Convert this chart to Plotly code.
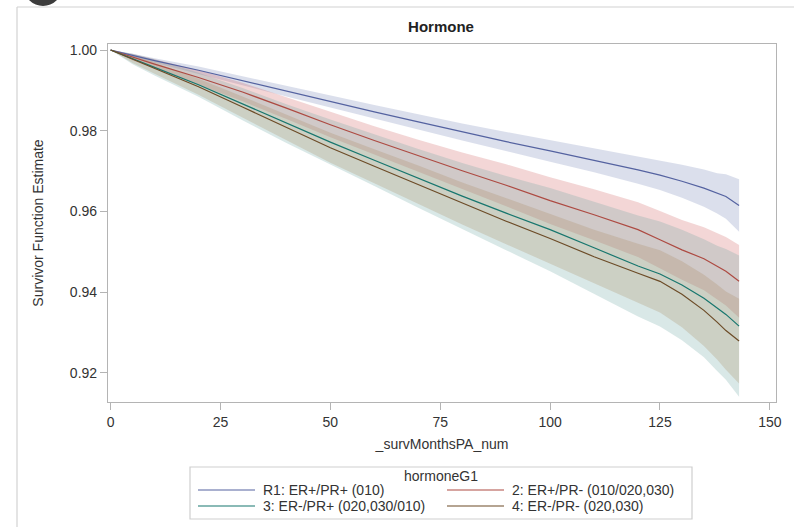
import plotly.graph_objects as go

# ---- data ----
months = [0, 5, 10, 20, 30, 40, 50, 60, 70, 80, 90, 100, 110, 120, 125, 130, 135, 138, 140, 143]

groups = ["R1: ER+/PR+ (010)", "2: ER+/PR- (010/020,030)",
          "3: ER-/PR+ (020,030/010)", "4: ER-/PR- (020,030)"]

est_1 = [1.0, 0.9987, 0.9974, 0.9950, 0.9924, 0.9898, 0.9872, 0.9847, 0.9822, 0.9797,
         0.9773, 0.9750, 0.9727, 0.9703, 0.9690, 0.9675, 0.9658, 0.9645, 0.9637, 0.9615]
lo_1 = [1.0, 0.9983, 0.9968, 0.9941, 0.9913, 0.9885, 0.9857, 0.9830, 0.9803, 0.9776,
        0.9749, 0.9723, 0.9697, 0.9669, 0.9653, 0.9634, 0.9612, 0.9595, 0.9582, 0.9550]
hi_1 = [1.0, 0.9991, 0.9980, 0.9959, 0.9935, 0.9911, 0.9887, 0.9864, 0.9841, 0.9818,
        0.9797, 0.9777, 0.9757, 0.9737, 0.9727, 0.9716, 0.9704, 0.9695, 0.9692, 0.9680]

est_2 = [1.0, 0.9982, 0.9965, 0.9932, 0.9896, 0.9856, 0.9815, 0.9776, 0.9738, 0.9701,
         0.9665, 0.9627, 0.9592, 0.9555, 0.9530, 0.9505, 0.9483, 0.9464, 0.9452, 0.9427]
lo_2 = [1.0, 0.9974, 0.9953, 0.9914, 0.9873, 0.9829, 0.9784, 0.9741, 0.9697, 0.9656,
        0.9613, 0.9569, 0.9529, 0.9487, 0.9459, 0.9431, 0.9405, 0.9382, 0.9367, 0.9337]
hi_2 = [1.0, 0.9990, 0.9977, 0.9950, 0.9919, 0.9883, 0.9846, 0.9811, 0.9778, 0.9746,
        0.9717, 0.9685, 0.9655, 0.9623, 0.9601, 0.9579, 0.9561, 0.9546, 0.9537, 0.9517]

est_3 = [1.0, 0.9978, 0.9957, 0.9914, 0.9866, 0.9818, 0.9772, 0.9727, 0.9682, 0.9638,
         0.9596, 0.9555, 0.9510, 0.9465, 0.9445, 0.9418, 0.9385, 0.9360, 0.9345, 0.9316]
lo_3 = [1.0, 0.9965, 0.9937, 0.9884, 0.9826, 0.9770, 0.9716, 0.9663, 0.9609, 0.9556,
        0.9504, 0.9452, 0.9396, 0.9340, 0.9315, 0.9281, 0.9239, 0.9205, 0.9183, 0.9141]
hi_3 = [1.0, 0.9991, 0.9977, 0.9944, 0.9906, 0.9866, 0.9828, 0.9791, 0.9755, 0.9720,
        0.9688, 0.9658, 0.9624, 0.9590, 0.9575, 0.9555, 0.9531, 0.9515, 0.9507, 0.9491]

est_4 = [1.0, 0.9977, 0.9955, 0.9909, 0.9859, 0.9809, 0.9758, 0.9712, 0.9667, 0.9620,
         0.9576, 0.9533, 0.9488, 0.9447, 0.9427, 0.9395, 0.9355, 0.9326, 0.9305, 0.9279]
lo_4 = [1.0, 0.9968, 0.9941, 0.9889, 0.9833, 0.9777, 0.9721, 0.9670, 0.9620, 0.9568,
        0.9519, 0.9471, 0.9421, 0.9374, 0.9350, 0.9313, 0.9267, 0.9233, 0.9208, 0.9174]
hi_4 = [1.0, 0.9986, 0.9969, 0.9929, 0.9885, 0.9841, 0.9795, 0.9754, 0.9714, 0.9672,
        0.9633, 0.9595, 0.9555, 0.9520, 0.9504, 0.9477, 0.9443, 0.9419, 0.9402, 0.9384]

x_ticks = [0, 25, 50, 75, 100, 125, 150]
y_ticks = [0.92, 0.94, 0.96, 0.98, 1.00]

# ---- styling ----
W, H = 794, 527
L, R, T, B = 108, 776, 44, 402          # plot-area pixel box
line_colors = ["#5462a0", "#ad4a42", "#17766e", "#6c4b27"]
band_colors = ["rgba(111,126,179,0.25)", "rgba(208,91,91,0.25)",
               "rgba(102,165,160,0.25)", "rgba(169,134,91,0.25)"]
FONT = "Liberation Sans, Arial, sans-serif"
GREY = "#b4b4b4"


def px(xp):
    return (xp - L) / (R - L)


def py(yp):
    return (B - yp) / (B - T)


ests = [est_1, est_2, est_3, est_4]
los = [lo_1, lo_2, lo_3, lo_4]
his = [hi_1, hi_2, hi_3, hi_4]

fig = go.Figure()
for i in range(4):
    fig.add_trace(go.Scatter(
        x=months + months[::-1], y=his[i] + los[i][::-1],
        fill="toself", fillcolor=band_colors[i], line=dict(width=0),
        mode="lines", hoverinfo="skip", showlegend=False))
for i in range(4):
    fig.add_trace(go.Scatter(
        x=months, y=ests[i], mode="lines", name=groups[i],
        line=dict(color=line_colors[i], width=1.2), showlegend=False))

shapes = [
    # outer frame (top and left edges)
    dict(type="line", xref="paper", yref="paper", x0=px(17), x1=px(800), y0=py(7), y1=py(7),
         line=dict(color="#d2d2d2", width=1.2)),
    dict(type="line", xref="paper", yref="paper", x0=px(17), x1=px(17), y0=py(7), y1=py(530),
         line=dict(color="#d2d2d2", width=1.2)),
    # dark badge at top-left
    dict(type="circle", xref="paper", yref="paper", x0=px(24), x1=px(62), y0=py(6), y1=py(-32),
         fillcolor="#3c3c3c", line=dict(width=0)),
    # legend box
    dict(type="rect", xref="paper", yref="paper", x0=px(190), x1=px(692), y0=py(467), y1=py(519),
         line=dict(color="#cfcfcf", width=1.2), fillcolor="rgba(0,0,0,0)"),
]
annotations = [
    dict(text="hormoneG1", xref="paper", yref="paper", x=px(441), y=py(476),
         showarrow=False, font=dict(family=FONT, size=14, color="#333333"),
         xanchor="center", yanchor="middle"),
]
leg_pos = [(198, 490), (447, 490), (198, 506), (447, 506)]
for i, (lx, ly) in enumerate(leg_pos):
    shapes.append(dict(type="line", xref="paper", yref="paper",
                       x0=px(lx), x1=px(lx + 57), y0=py(ly), y1=py(ly),
                       line=dict(color=line_colors[i], width=1.2)))
    annotations.append(dict(text=groups[i], xref="paper", yref="paper",
                            x=px(lx + 63), y=py(ly), showarrow=False,
                            xanchor="left", yanchor="middle",
                            font=dict(family=FONT, size=14, color="#333333")))

fig.update_layout(
    width=W, height=H,
    margin=dict(l=L, r=W - R, t=T, b=H - B, pad=0),
    paper_bgcolor="white", plot_bgcolor="white",
    font=dict(family=FONT, size=14, color="#333333"),
    title=dict(text="<b>Hormone</b>", x=px(441), xref="paper", xanchor="center",
               y=1 - 27 / H, yanchor="middle", font=dict(family=FONT, size=15, color="#222222")),
    shapes=shapes, annotations=annotations,
    showlegend=False,
)
fig.update_xaxes(
    range=[-0.6, 151.4], tickvals=x_ticks, ticktext=[str(v) for v in x_ticks],
    showgrid=False, zeroline=False, showline=True, linecolor=GREY, linewidth=1.2,
    mirror=True, ticks="outside", ticklen=7, tickcolor=GREY,
    tickfont=dict(family=FONT, size=14, color="#333333"),
    title=dict(text="_survMonthsPA_num", standoff=10,
               font=dict(family=FONT, size=14, color="#333333")),
)
fig.update_yaxes(
    range=[0.9128, 1.0015], tickvals=y_ticks, ticktext=[f"{v:.2f}" for v in y_ticks],
    showgrid=False, zeroline=False, showline=True, linecolor=GREY, linewidth=1.2,
    mirror=True, ticks="outside", ticklen=7, tickcolor=GREY,
    tickfont=dict(family=FONT, size=14, color="#333333"),
    title=dict(text="Survivor Function Estimate", standoff=22,
               font=dict(family=FONT, size=14, color="#333333")),
)

fig.write_html("out.html")
